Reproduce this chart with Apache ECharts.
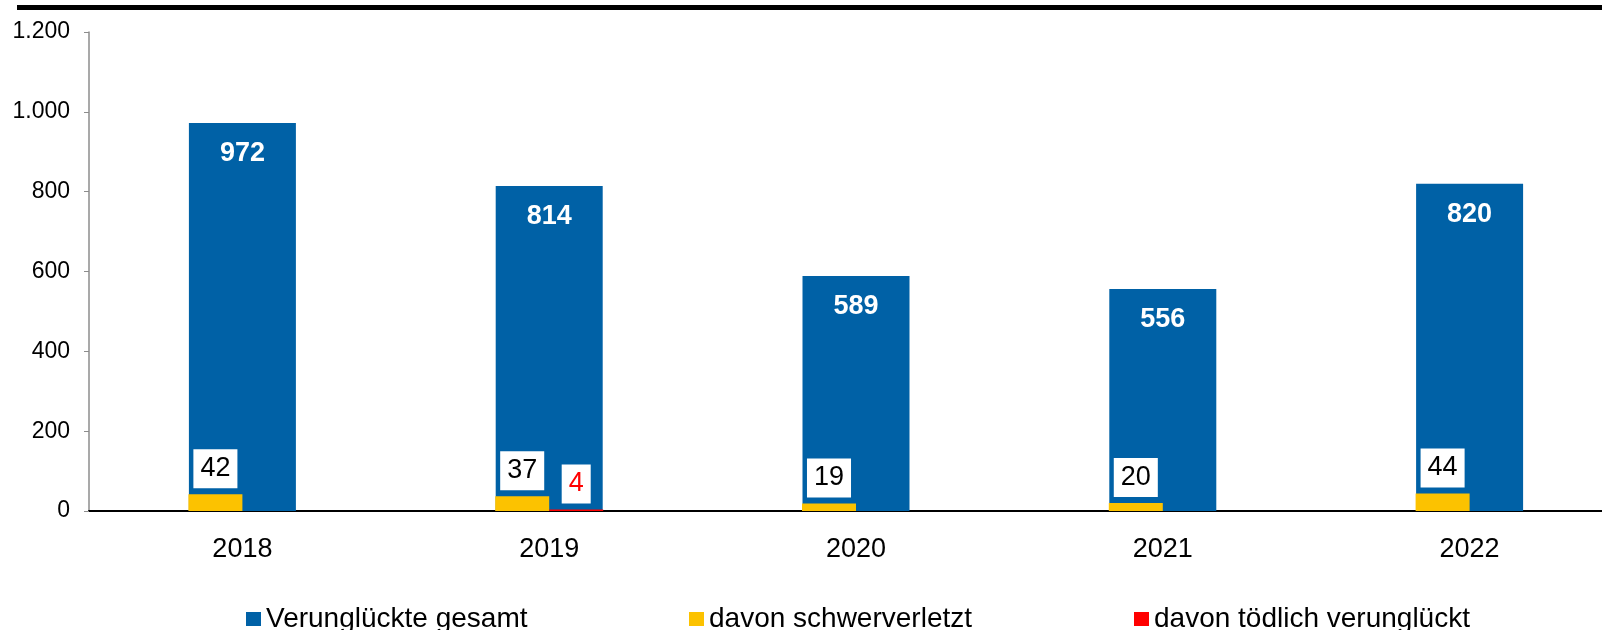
<!DOCTYPE html>
<html>
<head>
<meta charset="utf-8">
<script src="https://cdn.jsdelivr.net/npm/echarts@6/dist/echarts.min.js"></script>
<style>
  html, body { margin: 0; padding: 0; background: #fff; }
  #chart { width: 1602px; height: 630px; }
</style>
</head>
<body>
<div id="chart"></div>
<script>
const years = ['2018', '2019', '2020', '2021', '2022'];
const gesamt = [972, 814, 589, 556, 820];
const schwer = [42, 37, 19, 20, 44];
const toedlich = [null, 4, null, null, null];
const yTicks = [0, 200, 400, 600, 800, 1000, 1200];

const chart = echarts.init(document.getElementById('chart'));
const font = 'Liberation Sans, Arial, sans-serif';

// Zahlen mit deutschem Tausenderpunkt
function fmt(v) {
  return String(v).replace(/\B(?=(\d{3})+(?!\d))/g, '.');
}

const boxLabel = {
  show: true,
  position: 'top',
  distance: 6,
  fontFamily: font,
  fontSize: 27,
  lineHeight: 27,
  backgroundColor: '#fff',
  padding: [6, 7, 6, 7]
};

const legendText = { fontFamily: font, fontSize: 28, color: '#000' };

const option = {
  animation: false,
  color: ['#0061A6', '#FCC200', '#FF0000'],
  graphic: [
    {
      type: 'rect',
      shape: { x: 17, y: 5, width: 1600, height: 5 },
      style: { fill: '#000' }
    }
  ],
  legend: [
    {
      data: ['Verunglückte gesamt'],
      left: 246, top: 605, padding: 0,
      itemWidth: 15, itemHeight: 14,
      icon: 'rect',
      textStyle: legendText
    },
    {
      data: ['davon schwerverletzt'],
      left: 689, top: 605, padding: 0,
      itemWidth: 15, itemHeight: 14,
      icon: 'rect',
      textStyle: legendText
    },
    {
      data: ['davon tödlich verunglückt'],
      left: 1134, top: 605, padding: 0,
      itemWidth: 15, itemHeight: 14,
      icon: 'rect',
      textStyle: legendText
    }
  ],
  grid: {
    left: 89,
    top: 32,
    width: 1534,
    height: 479,
    outerBoundsMode: 'none'
  },
  xAxis: [
    {
      type: 'category',
      data: years,
      axisLine: { lineStyle: { color: '#000', width: 2 } },
      axisTick: { show: false },
      axisLabel: { color: '#000', fontFamily: font, fontSize: 27, margin: 25 }
    },
    {
      type: 'category',
      data: years,
      show: false
    }
  ],
  yAxis: {
    type: 'value',
    min: yTicks[0],
    max: yTicks[yTicks.length - 1],
    interval: 200,
    axisLine: { show: true, lineStyle: { color: '#8c8c8c', width: 1.5 } },
    axisTick: { show: true, length: 5, lineStyle: { color: '#8c8c8c' } },
    splitLine: { show: false },
    axisLabel: {
      color: '#000', fontFamily: font, fontSize: 23, margin: 19,
      formatter: fmt
    }
  },
  series: [
    {
      name: 'Verunglückte gesamt',
      type: 'bar',
      xAxisIndex: 0,
      data: gesamt,
      barWidth: 107,
      label: {
        show: true,
        position: 'insideTop',
        distance: 17,
        color: '#fff',
        fontFamily: font,
        fontWeight: 'bold',
        fontSize: 27
      }
    },
    {
      name: 'davon schwerverletzt',
      type: 'bar',
      xAxisIndex: 1,
      data: schwer,
      barWidth: 54,
      barGap: '0%',
      label: Object.assign({}, boxLabel, { color: '#000' })
    },
    {
      name: 'davon tödlich verunglückt',
      type: 'bar',
      xAxisIndex: 1,
      data: toedlich,
      barWidth: 54,
      barGap: '0%',
      label: Object.assign({}, boxLabel, { color: '#FF0000' })
    }
  ]
};

chart.setOption(option);
</script>
</body>
</html>
